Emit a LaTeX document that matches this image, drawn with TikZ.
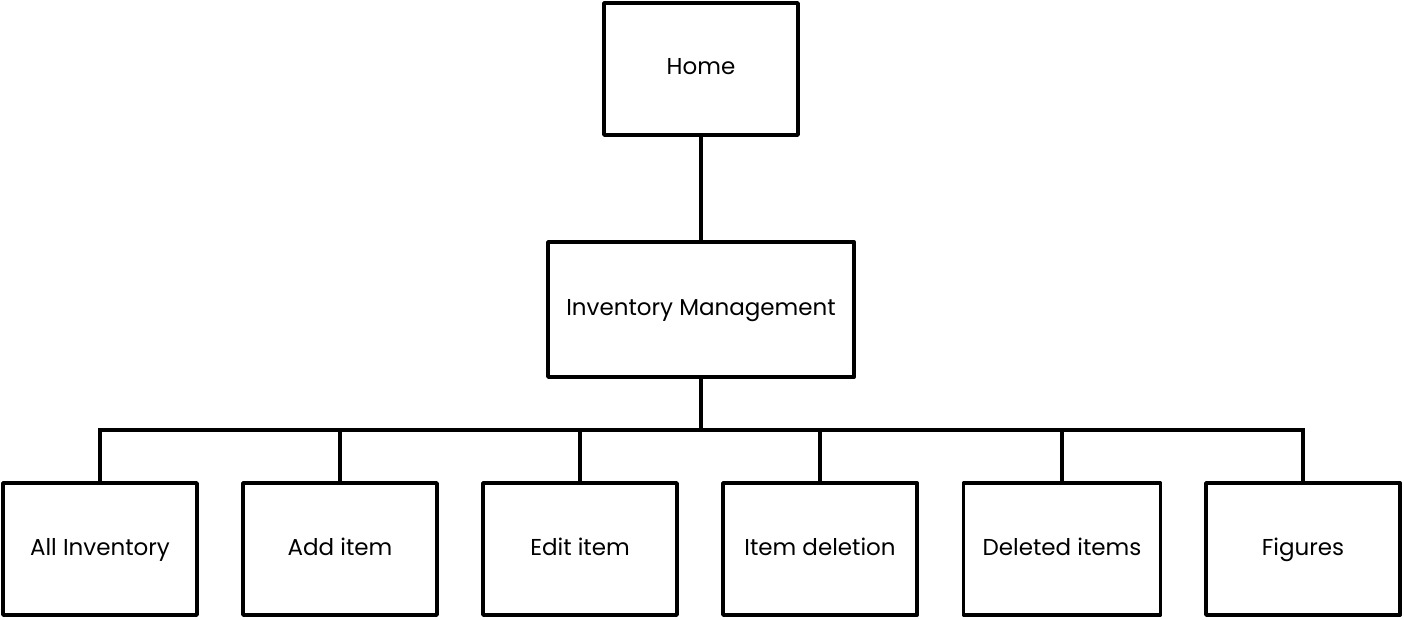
\documentclass[tikz,border=0pt]{standalone}
\usepackage{fontspec}
\setmainfont{Poppins}
\begin{document}
\begin{tikzpicture}[x=1pt,y=-1pt,
  box/.style={draw=black,line width=3.8pt,line join=round,minimum width=194pt,minimum height=132pt,inner sep=0pt,font=\fontsize{23}{27}\selectfont,text height=1.2em,text depth=0em,fill=white},
  link/.style={draw=black,line width=3.2pt}]
\useasboundingbox (0,0) rectangle (1404,620);
\draw[link] (701,69) -- (701,309.5) -- (701,430);
\node[box] (home) at (701,69) {Home};
\node[box,minimum width=306pt,minimum height=135pt] (im) at (701,309.5) {Inventory Management};
\node[box] (all) at (100,549) {All Inventory};
\node[box] (add) at (340,549) {Add item};
\node[box] (edit) at (580,549) {Edit item};
\node[box] (del) at (820,549) {Item deletion};
\node[box,minimum width=197pt] (deld) at (1062,549) {Deleted items};
\node[box] (fig) at (1303,549) {Figures};
\coordinate (bus) at (701,430);
\draw[link,line join=miter] (all.north) |- (bus) -| (fig.north);
\foreach \n in {add,edit,del,deld}{\draw[link] (\n.north) -- (\n.north |- bus);}
\end{tikzpicture}
\end{document}
